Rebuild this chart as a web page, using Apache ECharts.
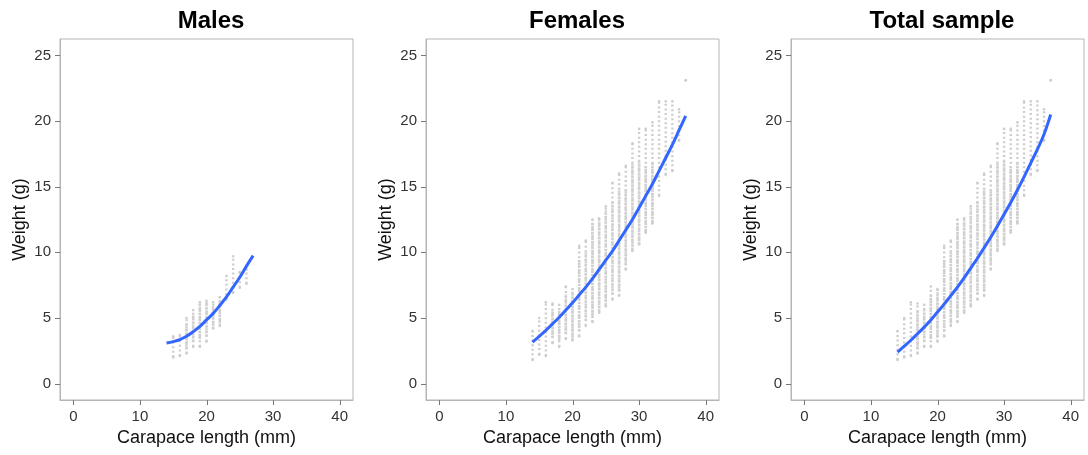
<!DOCTYPE html>
<html>
<head>
<meta charset="utf-8">
<script src="https://cdn.jsdelivr.net/npm/echarts@6/dist/echarts.min.js"></script>
<style>html,body{margin:0;padding:0;background:#fff;}#chart{width:1088px;height:455px;}</style>
</head>
<body>
<div id="chart"></div>
<script>
// ---- data ----
const panelTitles = ['Males', 'Females', 'Total sample'];
const xTicks = [0, 10, 20, 30, 40];
const yTicks = [0, 5, 10, 15, 20, 25];
const xName = 'Carapace length (mm)';
const yName = 'Weight (g)';

// Males: observed weight spread per carapace length class
const maleLength  = [15, 16, 17, 18, 19, 20, 21, 22, 23, 24, 25, 26];
const maleMin     = [2.0, 2.1, 2.3, 2.8, 2.8, 3.2, 4.2, 4.4, 6.4, 6.9, 7.3, 7.6];
const maleMax     = [3.6, 3.7, 5.0, 5.6, 6.2, 6.3, 6.2, 6.6, 8.2, 9.7, 8.5, 8.7];
const maleDenseLo = [null, null, 2.6, 3.2, 3.4, 3.6, 4.4, 4.6, null, null, null, null];
const maleDenseHi = [null, null, 4.6, 5.2, 6.0, 6.2, 6.0, 6.4, null, null, null, null];

// Females
const femaleLength  = [14, 15, 16, 17, 18, 19, 20, 21, 22, 23, 24, 25, 26, 27, 28, 29, 30, 31, 32, 33, 34, 35, 36, 37];
const femaleMin     = [1.8, 2.2, 2.1, 3.1, 2.8, 3.4, 3.3, 3.6, 4.4, 4.7, 5.4, 5.9, 6.4, 6.7, 8.7, 10.1, 10.6, 11.5, 12.2, 14.3, 15.9, 16.2, 18.5, 23.1];
const femaleMax     = [4.0, 5.0, 6.2, 6.1, 6.0, 7.4, 7.2, 10.5, 10.9, 12.5, 12.6, 13.5, 15.3, 16.0, 16.6, 18.3, 19.4, 19.4, 19.9, 21.5, 21.5, 21.5, 20.9, 23.1];
const femaleDenseLo = [null, null, null, 3.5, 3.3, 3.8, 3.5, 4.0, 4.8, 5.0, 5.5, 6.0, 6.8, 7.0, 9.0, 10.2, 10.6, 11.6, 12.3, null, null, null, null, null];
const femaleDenseHi = [null, null, null, 5.5, 5.6, 6.8, 7.0, 9.5, 10.0, 12.3, 12.4, 13.2, 13.8, 14.8, 14.8, 16.8, 17.0, 16.6, 16.8, null, null, null, null, null];

// fitted curves
const maleCurveX = [14, 15, 16, 17, 18, 19, 20, 21, 22, 23, 24, 25, 26, 27];
const maleCurveY = [3.1, 3.2, 3.35, 3.6, 3.95, 4.35, 4.85, 5.35, 5.95, 6.6, 7.35, 8.1, 8.95, 9.75];
const femaleCurveX = [14, 15, 16, 17, 18, 19, 20, 21, 22, 23, 24, 25, 26, 27, 28, 29, 30, 31, 32, 33, 34, 35, 36, 37];
const femaleCurveY = [3.15, 3.6, 4.05, 4.55, 5.05, 5.6, 6.15, 6.75, 7.35, 8.0, 8.7, 9.4, 10.1, 10.9, 11.7, 12.5, 13.4, 14.3, 15.2, 16.2, 17.2, 18.2, 19.3, 20.4];
const totalCurveX = [14, 15, 16, 17, 18, 19, 20, 21, 22, 23, 24, 25, 26, 27, 28, 29, 30, 31, 32, 33, 34, 35, 36, 37];
const totalCurveY = [2.4, 2.85, 3.3, 3.8, 4.3, 4.85, 5.45, 6.05, 6.7, 7.35, 8.05, 8.8, 9.55, 10.35, 11.15, 12.0, 12.9, 13.8, 14.75, 15.75, 16.8, 17.85, 19.0, 20.5];

// ---- build tables ----
function zipRange(xs, lo, hi) {
  const out = [];
  xs.forEach((x, i) => { if (lo[i] != null && hi[i] != null) out.push([x, lo[i], hi[i]]); });
  return out;
}
function zipXY(xs, ys) { return xs.map((x, i) => [x, ys[i]]); }

// total sample = union of both sexes per length class
function unionRanges(aX, aLo, aHi, bX, bLo, bHi) {
  const m = new Map();
  const add = (xs, lo, hi) => xs.forEach((x, i) => {
    if (lo[i] == null) return;
    const c = m.get(x);
    if (!c) m.set(x, [x, lo[i], hi[i]]);
    else { c[1] = Math.min(c[1], lo[i]); c[2] = Math.max(c[2], hi[i]); }
  });
  add(aX, aLo, aHi); add(bX, bLo, bHi);
  return Array.from(m.values()).sort((p, q) => p[0] - q[0]);
}

const panels = [
  { spread: zipRange(maleLength, maleMin, maleMax), dense: zipRange(maleLength, maleDenseLo, maleDenseHi), curve: zipXY(maleCurveX, maleCurveY) },
  { spread: zipRange(femaleLength, femaleMin, femaleMax), dense: zipRange(femaleLength, femaleDenseLo, femaleDenseHi), curve: zipXY(femaleCurveX, femaleCurveY) },
  { spread: unionRanges(maleLength, maleMin, maleMax, femaleLength, femaleMin, femaleMax),
    dense: unionRanges(maleLength, maleDenseLo, maleDenseHi, femaleLength, femaleDenseLo, femaleDenseHi),
    curve: zipXY(totalCurveX, totalCurveY) }
];

// ---- layout ----
const gridBoxes = [
  { left: 60, right: 735, top: 39, bottom: 55 },
  { left: 426, right: 369, top: 39, bottom: 55 },
  { left: 791, right: 4, top: 39, bottom: 55 }
];
const titleCenters = [206, 572, 937];
const FONT = 'Liberation Sans, Arial, sans-serif';
const dotColor = '#cdcdcd';
const frameColor = '#b5b5b5';
const tickColor = '#777777';
const TICK_LEN = 5;

function spreadRender(params, api) {
  const x = api.value(0), lo = api.value(1), hi = api.value(2);
  const p1 = api.coord([x, lo]), p2 = api.coord([x, hi]);
  return {
    type: 'group',
    children: [
      { type: 'line', shape: { x1: p1[0], y1: p1[1], x2: p2[0], y2: p2[1] },
        style: { stroke: dotColor, lineWidth: 2.4, lineDash: [2, 2.6], lineCap: 'butt' } },
      { type: 'circle', shape: { cx: p1[0], cy: p1[1], r: 1.3 }, style: { fill: dotColor } },
      { type: 'circle', shape: { cx: p2[0], cy: p2[1], r: 1.3 }, style: { fill: dotColor } }
    ]
  };
}
function denseRender(params, api) {
  const x = api.value(0), lo = api.value(1), hi = api.value(2);
  const p1 = api.coord([x, lo]), p2 = api.coord([x, hi]);
  return { type: 'line', shape: { x1: p1[0], y1: p1[1], x2: p2[0], y2: p2[1] },
    style: { stroke: '#d0d0d0', lineWidth: 2.6, lineDash: [2.2, 0.8], lineCap: 'butt' } };
}
// tick marks outside the panel frame, positioned by the axis scales
function xTickRender(params, api) {
  const cs = params.coordSys;
  const p = api.coord([api.value(0), 0]);
  const yb = cs.y + cs.height;
  return { type: 'line', shape: { x1: Math.round(p[0]) + 0.5, y1: yb, x2: Math.round(p[0]) + 0.5, y2: yb + TICK_LEN },
    style: { stroke: tickColor, lineWidth: 1 } };
}
function yTickRender(params, api) {
  const cs = params.coordSys;
  const p = api.coord([0, api.value(0)]);
  return { type: 'line', shape: { x1: cs.x - TICK_LEN, y1: Math.round(p[1]) + 0.5, x2: cs.x, y2: Math.round(p[1]) + 0.5 },
    style: { stroke: tickColor, lineWidth: 1 } };
}

const option = {
  animation: false,
  backgroundColor: '#ffffff',
  title: panelTitles.map((t, i) => ({
    text: t, left: titleCenters[i], top: 4, textAlign: 'center',
    textStyle: { fontFamily: FONT, fontSize: 24, fontWeight: 'bold', color: '#000' }
  })),
  grid: gridBoxes.map(g => Object.assign({ show: true, borderColor: frameColor, borderWidth: 1, backgroundColor: '#fff' }, g)),
  xAxis: gridBoxes.map((g, i) => ({
    type: 'value', gridIndex: i, min: -2, max: 42,
    name: xName, nameLocation: 'middle', nameGap: 28,
    nameTextStyle: { fontFamily: FONT, fontSize: 18, color: '#111' },
    axisLine: { show: true, onZero: false, lineStyle: { color: frameColor, width: 1 } },
    axisTick: { show: false },
    axisLabel: { fontFamily: FONT, fontSize: 15, color: '#333', margin: 9, customValues: xTicks },
    splitLine: { show: false }
  })),
  yAxis: gridBoxes.map((g, i) => ({
    type: 'value', gridIndex: i, min: -1.25, max: 26.25,
    name: yName, nameLocation: 'middle', nameGap: 31, nameRotate: 90,
    nameTextStyle: { fontFamily: FONT, fontSize: 18, color: '#111' },
    axisLine: { show: true, onZero: false, lineStyle: { color: frameColor, width: 1 } },
    axisTick: { show: false },
    axisLabel: { fontFamily: FONT, fontSize: 15, color: '#333', margin: 9, customValues: yTicks },
    splitLine: { show: false }
  })),
  series: []
};

panels.forEach((p, i) => {
  option.series.push({
    type: 'custom', xAxisIndex: i, yAxisIndex: i, renderItem: spreadRender,
    data: p.spread, encode: { x: 0, y: [1, 2] }, z: 2, silent: true
  });
  option.series.push({
    type: 'custom', xAxisIndex: i, yAxisIndex: i, renderItem: denseRender,
    data: p.dense, encode: { x: 0, y: [1, 2] }, z: 3, silent: true
  });
  option.series.push({
    type: 'line', xAxisIndex: i, yAxisIndex: i, data: p.curve, smooth: 0.4,
    showSymbol: false, symbol: 'none', z: 5,
    lineStyle: { color: '#3366ff', width: 3 }
  });
  option.series.push({
    type: 'custom', xAxisIndex: i, yAxisIndex: i, renderItem: xTickRender, clip: false,
    data: xTicks.map(v => [v]), encode: { x: 0 }, z: 6, silent: true
  });
  option.series.push({
    type: 'custom', xAxisIndex: i, yAxisIndex: i, renderItem: yTickRender, clip: false,
    data: yTicks.map(v => [v]), encode: { y: 0 }, z: 6, silent: true
  });
});

const chart = echarts.init(document.getElementById('chart'), null, { renderer: 'canvas' });
chart.setOption(option);
</script>
</body>
</html>
